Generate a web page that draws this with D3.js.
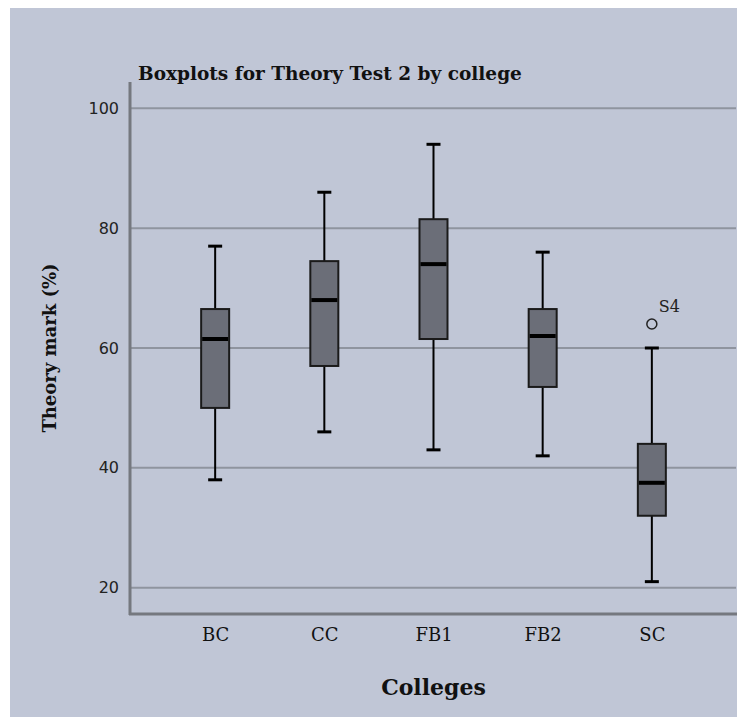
<!DOCTYPE html>
<html>
<head>
<meta charset="utf-8">
<script src="https://cdn.jsdelivr.net/npm/d3@7/dist/d3.min.js"></script>
<style>
  html, body { margin: 0; padding: 0; background: #ffffff; }
  svg { display: block; }
</style>
</head>
<body>
<div id="chart"></div>
<script>
// Theory Test 2 marks summarised per college (five-number summaries)
const categories   = ["BC", "CC", "FB1", "FB2", "SC"];
const whiskerLow   = [38, 46, 43, 42, 21];
const quartile1    = [50, 57, 61.5, 53.5, 32];
const medians      = [61.5, 68, 74, 62, 37.5];
const quartile3    = [66.5, 74.5, 81.5, 66.5, 44];
const whiskerHigh  = [77, 86, 94, 76, 60];
const outlierCats  = ["SC"];
const outlierVals  = [64];
const outlierIds   = ["S4"];
const yTicks       = [20, 40, 60, 80, 100];

const W = 737, H = 717;
const svg = d3.select("#chart").append("svg")
  .attr("width", W).attr("height", H);

// panel background (white strip left/top)
svg.append("rect").attr("x", 10).attr("y", 8)
  .attr("width", W - 10).attr("height", H - 8)
  .attr("fill", "#c0c6d6");

const plotLeft = 130, plotRight = 737, plotTop = 82, plotBottom = 614;

const y = d3.scaleLinear().domain([15.6, 104.4]).range([plotBottom, plotTop]);
const x = d3.scalePoint().domain(categories).range([plotLeft, plotRight]).padding(0.78);

// horizontal grid lines
svg.append("g").selectAll("line").data(yTicks).join("line")
  .attr("x1", plotLeft).attr("x2", 736)
  .attr("y1", d => y(d)).attr("y2", d => y(d))
  .attr("stroke", "#8f949f").attr("stroke-width", 2);

// y axis tick labels
const yAxis = d3.axisLeft(y).tickValues(yTicks).tickSize(0).tickPadding(11);
const gy = svg.append("g").attr("transform", `translate(${plotLeft},0)`).call(yAxis);
gy.select(".domain").remove();
gy.selectAll("text")
  .attr("font-family", "DejaVu Sans, sans-serif")
  .attr("font-size", 16)
  .attr("fill", "#222");

// x axis category labels
const xAxis = d3.axisBottom(x).tickSize(0).tickPadding(14);
const gx = svg.append("g").attr("transform", `translate(0,${plotBottom})`).call(xAxis);
gx.select(".domain").remove();
gx.selectAll("text")
  .attr("font-family", "DejaVu Serif, serif")
  .attr("font-size", 18)
  .attr("fill", "#111");

// axis lines
svg.append("line").attr("x1", plotLeft).attr("x2", plotLeft)
  .attr("y1", plotTop).attr("y2", plotBottom + 1)
  .attr("stroke", "#75787f").attr("stroke-width", 3);
svg.append("line").attr("x1", plotLeft - 1).attr("x2", plotRight)
  .attr("y1", plotBottom).attr("y2", plotBottom)
  .attr("stroke", "#75787f").attr("stroke-width", 3);

// boxplots
const stats = categories.map((c, i) => ({
  cat: c, lo: whiskerLow[i], q1: quartile1[i], med: medians[i],
  q3: quartile3[i], hi: whiskerHigh[i]
}));
const boxW = 28, capW = 14;
const g = svg.append("g").selectAll("g").data(stats).join("g")
  .attr("transform", d => `translate(${x(d.cat)},0)`);

// whiskers
g.append("line").attr("x1", 0).attr("x2", 0)
  .attr("y1", d => y(d.hi)).attr("y2", d => y(d.q3))
  .attr("stroke", "#000").attr("stroke-width", 2);
g.append("line").attr("x1", 0).attr("x2", 0)
  .attr("y1", d => y(d.q1)).attr("y2", d => y(d.lo))
  .attr("stroke", "#000").attr("stroke-width", 2);
// caps
g.append("line").attr("x1", -capW / 2).attr("x2", capW / 2)
  .attr("y1", d => y(d.hi)).attr("y2", d => y(d.hi))
  .attr("stroke", "#000").attr("stroke-width", 3);
g.append("line").attr("x1", -capW / 2).attr("x2", capW / 2)
  .attr("y1", d => y(d.lo)).attr("y2", d => y(d.lo))
  .attr("stroke", "#000").attr("stroke-width", 3);
// box
g.append("rect")
  .attr("x", -boxW / 2).attr("width", boxW)
  .attr("y", d => y(d.q3)).attr("height", d => y(d.q1) - y(d.q3))
  .attr("fill", "#6b6e78").attr("stroke", "#1a1a1a").attr("stroke-width", 2);
// median
g.append("line").attr("x1", -boxW / 2 + 1).attr("x2", boxW / 2 - 1)
  .attr("y1", d => y(d.med)).attr("y2", d => y(d.med))
  .attr("stroke", "#000").attr("stroke-width", 4);

// outliers
const outs = outlierCats.map((c, i) => ({ cat: c, v: outlierVals[i], id: outlierIds[i] }));
svg.append("g").selectAll("circle").data(outs).join("circle")
  .attr("cx", d => x(d.cat)).attr("cy", d => y(d.v)).attr("r", 5)
  .attr("fill", "none").attr("stroke", "#222").attr("stroke-width", 1.5);
svg.append("g").selectAll("text").data(outs).join("text")
  .attr("x", d => x(d.cat) + 7).attr("y", d => y(d.v) - 12)
  .attr("font-family", "DejaVu Serif, serif").attr("font-size", 16)
  .attr("fill", "#222").text(d => d.id);

// titles
svg.append("text").attr("x", 138).attr("y", 80)
  .attr("font-family", "DejaVu Serif, serif").attr("font-weight", "bold")
  .attr("font-size", 18.5).attr("fill", "#111")
  .text("Boxplots for Theory Test 2 by college");

svg.append("text")
  .attr("transform", `translate(56,${(plotTop + plotBottom) / 2}) rotate(-90)`)
  .attr("text-anchor", "middle")
  .attr("font-family", "DejaVu Serif, serif").attr("font-weight", "bold")
  .attr("font-size", 18).attr("fill", "#111")
  .text("Theory mark (%)");

svg.append("text").attr("x", (plotLeft + plotRight) / 2).attr("y", 695)
  .attr("text-anchor", "middle")
  .attr("font-family", "DejaVu Serif, serif").attr("font-weight", "bold")
  .attr("font-size", 22).attr("fill", "#111")
  .text("Colleges");
</script>
</body>
</html>
